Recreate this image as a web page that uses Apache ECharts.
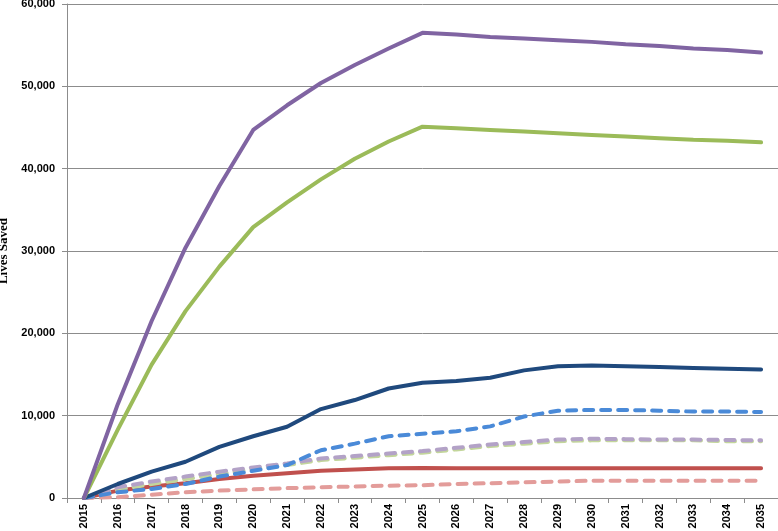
<!DOCTYPE html>
<html>
<head>
<meta charset="utf-8">
<script src="https://cdn.jsdelivr.net/npm/echarts@6/dist/echarts.min.js"></script>
<style>html,body{margin:0;padding:0;background:#fff;}#chart{width:778px;height:531px;}</style>
</head>
<body>
<div id="chart"></div>
<script>
var years = ['2015','2016','2017','2018','2019','2020','2021','2022','2023','2024','2025','2026','2027','2028','2029','2030','2031','2032','2033','2034','2035'];
var purpleSolid = [0,11400,21500,30400,37900,44700,47700,50400,52600,54600,56500,56300,56000,55800,55600,55400,55100,54900,54600,54400,54100];
var greenSolid  = [0,8300,16200,22700,28100,32900,35900,38700,41200,43300,45100,44900,44700,44500,44300,44100,43900,43700,43500,43400,43200];
var navySolid   = [0,1700,3200,4400,6200,7500,8650,10800,11900,13300,14000,14200,14600,15500,16000,16100,16000,15900,15800,15700,15600];
var blueDashed  = [0,700,1100,1700,2600,3300,4000,5800,6600,7500,7800,8100,8700,9900,10600,10700,10700,10600,10500,10500,10450];
var greenDashed = [0,1000,1700,2300,2900,3500,4000,4600,4900,5200,5500,5900,6300,6600,6900,7000,7000,7000,7000,6900,6900];
var lilacDashed = [0,1300,2000,2600,3200,3700,4200,4800,5100,5400,5700,6100,6500,6800,7100,7200,7150,7100,7100,7050,7000];
var redSolid    = [0,900,1400,1800,2300,2700,3000,3300,3450,3600,3650,3600,3600,3600,3600,3600,3600,3600,3600,3600,3600];
var pinkDashed  = [0,100,400,700,900,1050,1200,1300,1400,1500,1550,1700,1800,1900,2000,2100,2100,2100,2100,2100,2100];
var yTicks = [0,10000,20000,30000,40000,50000,60000];

function line(data, color, dashed, z) {
  return {
    type: 'line', data: data, symbol: 'none', z: z,
    lineStyle: { color: color, width: 4, type: dashed ? [9, 8] : 'solid', cap: 'round', join: 'round' },
    itemStyle: { color: color }
  };
}

var chart = echarts.init(document.getElementById('chart'));
chart.setOption({
  animation: false,
  backgroundColor: '#fff',
  grid: { left: 67, right: 0, top: 4, bottom: 33, containLabel: false, outerBoundsMode: 'none' },
  xAxis: {
    type: 'category', data: years, boundaryGap: true,
    axisLine: { lineStyle: { color: '#8c8c8c', width: 1 } },
    axisTick: { show: true, alignWithLabel: false, length: 5, lineStyle: { color: '#8c8c8c' } },
    axisLabel: { rotate: 90, margin: 6, color: '#000', fontFamily: 'Liberation Sans', fontWeight: 'bold', fontSize: 11, interval: 0 },
    splitLine: { show: false }
  },
  yAxis: {
    type: 'value', min: yTicks[0], max: yTicks[yTicks.length - 1], interval: yTicks[1] - yTicks[0],
    name: 'Lives Saved', nameLocation: 'middle', nameGap: 55, nameRotate: 90,
    nameTextStyle: { color: '#000', fontFamily: 'Liberation Serif', fontWeight: 'bold', fontSize: 13 },
    axisLine: { show: true, lineStyle: { color: '#8c8c8c', width: 1 } },
    axisTick: { show: true, length: 5, lineStyle: { color: '#8c8c8c' } },
    axisLabel: { margin: 12, color: '#000', fontFamily: 'Liberation Sans', fontWeight: 'bold', fontSize: 11,
      formatter: function (v) { return v.toLocaleString('en-US'); } },
    splitLine: { show: true, lineStyle: { color: '#8c8c8c', width: 1 } }
  },
  series: [
    line(pinkDashed, '#E39C9A', true, 2),
    line(redSolid, '#C0504D', false, 3),
    line(greenDashed, '#C3D69B', true, 4),
    line(lilacDashed, '#B3A2C7', true, 5),
    line(blueDashed, '#4A8AD8', true, 6),
    line(navySolid, '#1F497D', false, 7),
    line(greenSolid, '#9BBB59', false, 8),
    line(purpleSolid, '#8064A2', false, 9)
  ]
});
</script>
</body>
</html>
